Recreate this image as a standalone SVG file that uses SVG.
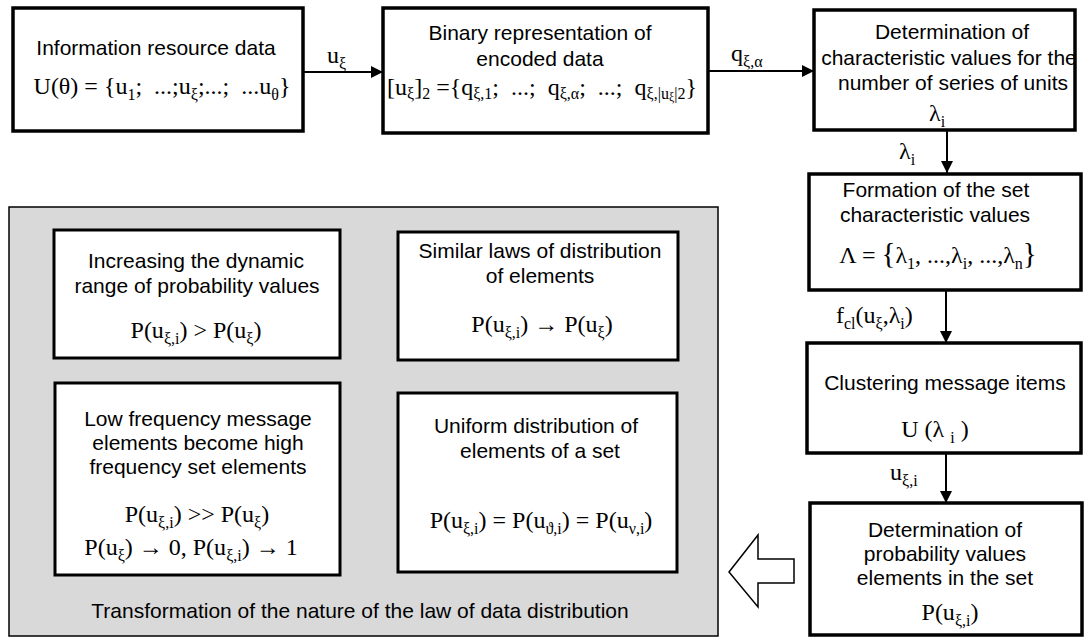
<svg xmlns="http://www.w3.org/2000/svg" width="1084" height="637" viewBox="0 0 1084 637">
<style>
.box{fill:#fff;stroke:#000;stroke-width:3.5}
.ibox{fill:#fff;stroke:#000;stroke-width:3}
.panel{fill:#d9d9d9;stroke:#000;stroke-width:1.5}
.t{font-family:"Liberation Sans",Arial,sans-serif;font-size:21px;text-anchor:middle;fill:#000}
.m{font-family:"Liberation Serif","Times New Roman",serif;font-size:24px;fill:#000}
.c{text-anchor:middle}
.s{font-size:16px}
.ss{font-size:12px}
.conn{stroke:#000;stroke-width:2;fill:none}
.hollow{fill:#fff;stroke:#000;stroke-width:1.5}
</style>
<defs>
<marker id="ah" markerUnits="userSpaceOnUse" markerWidth="13" markerHeight="12" refX="12" refY="6" orient="auto">
<path d="M0,0 L12,6 L0,12 z" fill="#000"/>
</marker>
</defs>

<g id="panel">
<rect class="panel" x="9" y="207" width="709" height="429"/>
<text class="t" x="360" y="618">Transformation of the nature of the law of data distribution</text>
</g>

<g id="node-info">
<rect class="box" x="13" y="8" width="290" height="123"/>
<text class="t" x="156" y="55">Information resource data</text>
<text class="m c" x="162" y="94" xml:space="preserve">U(θ) = {u<tspan class="s" dy="6">1</tspan><tspan dy="-6">;  ...;u</tspan><tspan class="s" dy="6">ξ</tspan><tspan dy="-6">;...;  ...u</tspan><tspan class="s" dy="6">θ</tspan><tspan dy="-6">}</tspan></text>
</g>

<g id="node-binary">
<rect class="box" x="383" y="8" width="325" height="125"/>
<text class="t" x="540" y="40">Binary representation of</text>
<text class="t" x="540" y="66">encoded data</text>
<text class="m c" x="542" y="95" xml:space="preserve">[u<tspan class="s" dy="4">ξ</tspan><tspan dy="-4">]</tspan><tspan class="s" dy="4">2</tspan><tspan dy="-4"> ={q</tspan><tspan class="s" dy="4">ξ,1</tspan><tspan dy="-4">;  ...;  q</tspan><tspan class="s" dy="4">ξ,α</tspan><tspan dy="-4">;  ...;  q</tspan><tspan class="s" dy="4">ξ,|u</tspan><tspan class="ss" dy="2">ξ</tspan><tspan class="s" dy="-2">|2</tspan><tspan dy="-4">}</tspan></text>
</g>

<g id="node-charvalues">
<rect class="box" x="814" y="10" width="261" height="120"/>
<text class="t" x="952" y="39">Determination of</text>
<text class="t" x="949" y="65">characteristic values for the</text>
<text class="t" x="953" y="90">number of series of units</text>
<text class="m" x="929" y="121">λ<tspan class="s" dy="6">i</tspan></text>
</g>

<g id="node-formation">
<rect class="box" x="809" y="174" width="272" height="116"/>
<text class="t" x="936" y="197">Formation of the set</text>
<text class="t" x="935" y="222">characteristic values</text>
<text class="m c" x="938" y="263" xml:space="preserve">Λ = <tspan font-size="29">{</tspan>λ<tspan class="s" dy="6">1</tspan><tspan dy="-6">, ...,λ</tspan><tspan class="s" dy="6">i</tspan><tspan dy="-6">, ...,λ</tspan><tspan class="s" dy="6">n</tspan><tspan dy="-6" font-size="29">}</tspan></text>
</g>

<g id="node-clustering">
<rect class="box" x="807" y="343" width="274" height="110"/>
<text class="t" x="945" y="390">Clustering message items</text>
<text class="m c" x="935" y="437" xml:space="preserve">U (λ <tspan class="s" dy="6">i</tspan><tspan dy="-6"> )</tspan></text>
</g>

<g id="node-probability">
<rect class="box" x="810" y="503" width="272" height="132"/>
<text class="t" x="945" y="537">Determination of</text>
<text class="t" x="945" y="561">probability values</text>
<text class="t" x="945" y="585">elements in the set</text>
<text class="m c" x="950" y="620">P(u<tspan class="s" dy="6">ξ,i</tspan><tspan dy="-6">)</tspan></text>
</g>

<g id="node-increasing">
<rect class="ibox" x="54" y="230" width="286" height="128"/>
<text class="t" x="196" y="268">Increasing the dynamic</text>
<text class="t" x="197" y="293">range of probability values</text>
<text class="m c" x="196" y="338">P(u<tspan class="s" dy="6">ξ,i</tspan><tspan dy="-6">) &gt; P(u</tspan><tspan class="s" dy="6">ξ</tspan><tspan dy="-6">)</tspan></text>
</g>

<g id="node-similar">
<rect class="ibox" x="398" y="232" width="280" height="128"/>
<text class="t" x="540" y="258">Similar laws of distribution</text>
<text class="t" x="540" y="283">of elements</text>
<text class="m c" x="542" y="332">P(u<tspan class="s" dy="6">ξ,i</tspan><tspan dy="-6">) → P(u</tspan><tspan class="s" dy="6">ξ</tspan><tspan dy="-6">)</tspan></text>
</g>

<g id="node-lowfreq">
<rect class="ibox" x="55" y="383" width="285" height="192"/>
<text class="t" x="198" y="426">Low frequency message</text>
<text class="t" x="198" y="450">elements become high</text>
<text class="t" x="198" y="474">frequency set elements</text>
<text class="m c" x="197" y="522">P(u<tspan class="s" dy="6">ξ,i</tspan><tspan dy="-6">) &gt;&gt; P(u</tspan><tspan class="s" dy="6">ξ</tspan><tspan dy="-6">)</tspan></text>
<text class="m c" x="191" y="555">P(u<tspan class="s" dy="6">ξ</tspan><tspan dy="-6">) → 0, P(u</tspan><tspan class="s" dy="6">ξ,i</tspan><tspan dy="-6">) → 1</tspan></text>
</g>

<g id="node-uniform">
<rect class="ibox" x="398" y="393" width="279" height="179"/>
<text class="t" x="536" y="433">Uniform distribution of</text>
<text class="t" x="540" y="458">elements of a set</text>
<text class="m c" x="541" y="528">P(u<tspan class="s" dy="6">ξ,i</tspan><tspan dy="-6">) = P(u</tspan><tspan class="s" dy="6">ϑ,i</tspan><tspan dy="-6">) = P(u</tspan><tspan class="s" dy="6">ν,i</tspan><tspan dy="-6">)</tspan></text>
</g>

<g id="connectors">
<line class="conn" x1="303" y1="72" x2="383" y2="72" marker-end="url(#ah)"/>
<line class="conn" x1="708" y1="71" x2="814" y2="71" marker-end="url(#ah)"/>
<line class="conn" x1="947" y1="130" x2="947" y2="173" marker-end="url(#ah)"/>
<line class="conn" x1="946" y1="290" x2="946" y2="343" marker-end="url(#ah)"/>
<line class="conn" x1="946" y1="453" x2="946" y2="503" marker-end="url(#ah)"/>
<polygon class="hollow" points="729,572 758,535 758,559 794,559 794,583 758,583 758,607"/>
<text class="m" x="327" y="63">u<tspan class="s" dy="6">ξ</tspan></text>
<text class="m" x="731" y="61">q<tspan class="s" dy="6">ξ,α</tspan></text>
<text class="m" x="899" y="159">λ<tspan class="s" dy="6">i</tspan></text>
<text class="m" x="836" y="323">f<tspan class="s" dy="6">cl</tspan><tspan dy="-6">(u</tspan><tspan class="s" dy="6">ξ</tspan><tspan dy="-6">,λ</tspan><tspan class="s" dy="6">i</tspan><tspan dy="-6">)</tspan></text>
<text class="m" x="890" y="480">u<tspan class="s" dy="6">ξ,i</tspan></text>
</g>
</svg>
